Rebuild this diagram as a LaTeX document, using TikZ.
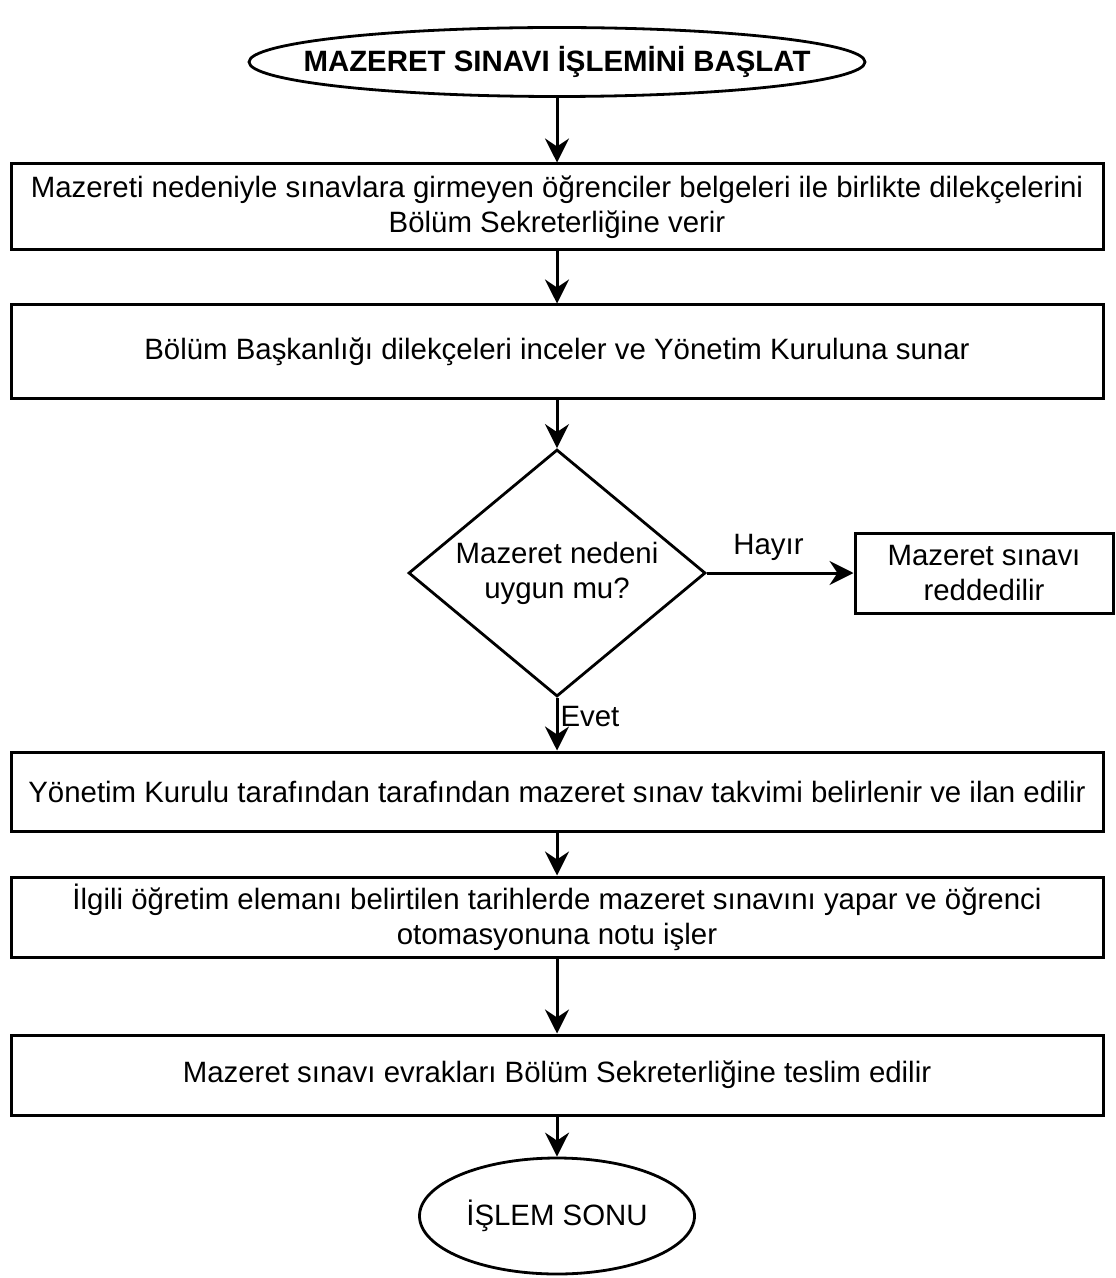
\documentclass[tikz,border=0pt]{standalone}
\usepackage{fontspec}
\setmainfont{Liberation Sans}
\usetikzlibrary{shapes.geometric,arrows.meta}

\begin{document}
\begin{tikzpicture}[x=0.5pt, y=-0.5pt,
  every node/.style={font=\fontsize{14.7}{17.5}\selectfont, align=center},
  terminal/.style={draw, ellipse, line width=1.4pt, inner sep=0pt},
  process/.style={draw, rectangle, line width=1.5pt, inner sep=0pt, minimum width=546pt},
  decision/.style={draw, diamond, line width=1.4pt, inner sep=0pt},
  flow/.style={line width=1.5pt, -{Stealth[length=12pt, width=12pt, inset=4pt]}}]
\useasboundingbox (0,0) rectangle (1115,1278);

\node[terminal, minimum width=308pt, minimum height=34.5pt,
  label={[font=\fontsize{14.7}{17.5}\selectfont\bfseries]center:MAZERET SINAVI İŞLEMİNİ BAŞLAT}] (start) at (557,62) {};
\node[process, minimum height=43pt] (dilekce) at (557,207) {Mazereti nedeniyle sınavlara girmeyen öğrenciler belgeleri ile birlikte dilekçelerini\\ Bölüm Sekreterliğine verir};
\node[process, minimum height=46.5pt] (inceleme) at (557,351.5) {Bölüm Başkanlığı dilekçeleri inceler ve Yönetim Kuruluna sunar};
\node[decision, minimum width=148.5pt, minimum height=123.5pt,
  label={center:{Mazeret nedeni\\ uygun mu?}}] (uygun) at (557,573) {};
\node[draw, rectangle, line width=1.5pt, inner sep=0pt, minimum width=129pt, minimum height=40pt] (red) at (984,573) {Mazeret sınavı\\ reddedilir};
\node[process, minimum height=39.5pt] (takvim) at (557,791.5) {Yönetim Kurulu tarafından tarafından mazeret sınav takvimi belirlenir ve ilan edilir};
\node[process, minimum height=40pt] (sinav) at (557,917) {İlgili öğretim elemanı belirtilen tarihlerde mazeret sınavını yapar ve öğrenci\\ otomasyonuna notu işler};
\node[process, minimum height=40pt] (teslim) at (557,1075) {Mazeret sınavı evrakları Bölüm Sekreterliğine teslim edilir};
\node[terminal, minimum width=137.5pt, minimum height=58pt] (son) at (557,1216) {İŞLEM SONU};

\draw[flow] (start) -- (dilekce);
\draw[flow] (dilekce) -- (inceleme);
\draw[flow] (inceleme) -- (uygun);
\draw[flow] (uygun) -- node[above, pos=0.42, yshift=2pt] {Hayır} (red);
\draw[flow] (uygun) -- node[right, pos=0.36, inner sep=1pt] {Evet} (takvim);
\draw[flow] (takvim) -- (sinav);
\draw[flow] (sinav) -- (teslim);
\draw[flow] (teslim) -- (son);
\end{tikzpicture}
\end{document}
